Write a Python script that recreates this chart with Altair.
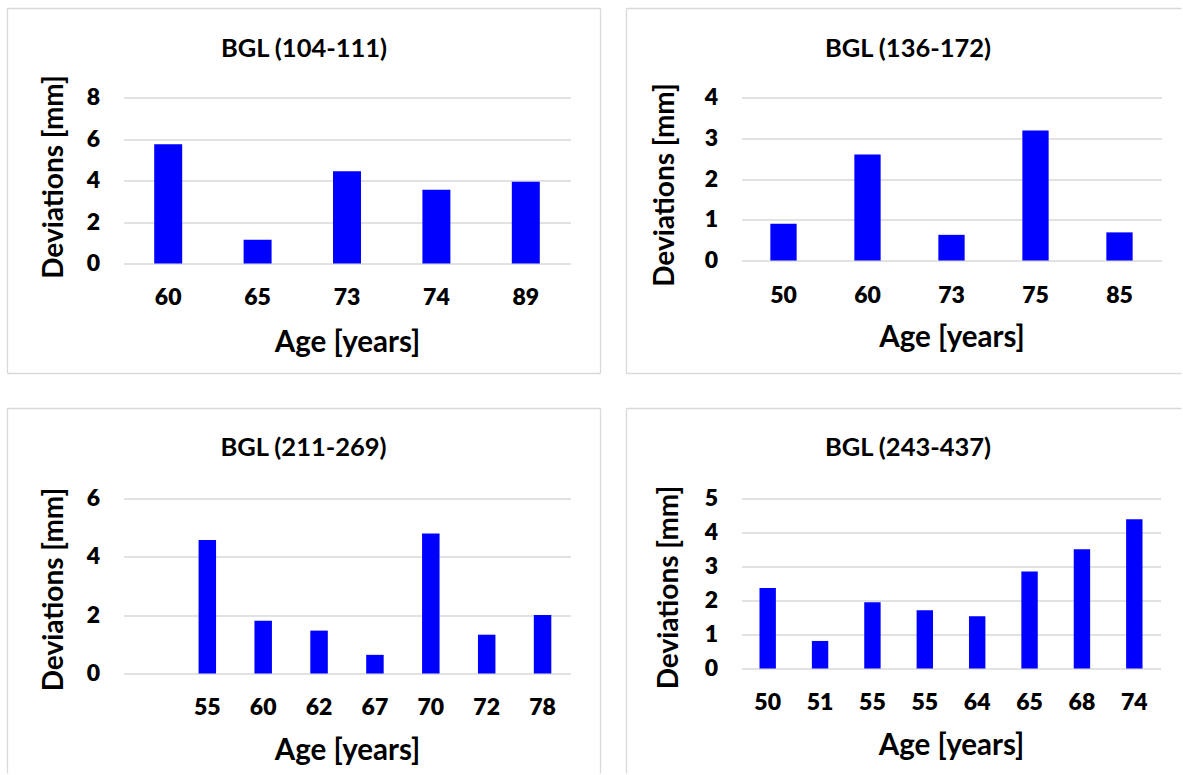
import altair as alt
import pandas as pd

# Panel titles and shared axis titles
TITLES = ["BGL (104-111)", "BGL (136-172)", "BGL (211-269)", "BGL (243-437)"]
X_TITLE = "Age [years]"
Y_TITLE = "Deviations [mm]"

# BGL (104-111)
AGES_1 = ["60", "65", "73", "74", "89"]
DEV_1 = [5.75, 1.15, 4.45, 3.55, 3.94]
TICKS_1 = [0, 2, 4, 6, 8]

# BGL (136-172)
AGES_2 = ["50", "60", "73", "75", "85"]
DEV_2 = [0.90, 2.60, 0.63, 3.19, 0.69]
TICKS_2 = [0, 1, 2, 3, 4]

# BGL (211-269) -- the first slot is left empty
AGES_3 = ["", "55", "60", "62", "67", "70", "72", "78"]
DEV_3 = [None, 4.58, 1.81, 1.47, 0.64, 4.80, 1.33, 2.01]
TICKS_3 = [0, 2, 4, 6]

# BGL (243-437)
AGES_4 = ["50", "51", "55", "55", "64", "65", "68", "74"]
DEV_4 = [2.37, 0.81, 1.95, 1.71, 1.54, 2.85, 3.51, 4.39]
TICKS_4 = [0, 1, 2, 3, 4, 5]

BLUE = "#0000ff"
GRID = "#d9d9d9"
FONT = "Lato"
ONE = pd.DataFrame({"k": [0]})


def edge(x1, x2, y1, y2):
    """One straight piece of a panel frame, in pixels relative to the plot."""
    return alt.Chart(ONE).mark_rule(color=GRID, strokeWidth=1.3).encode(
        x=alt.value(x1), x2=alt.value(x2), y=alt.value(y1), y2=alt.value(y2)
    )


def panel(title, ages, devs, ticks, w, h, frame, title_xy, ytitle_xy,
          xlabel_pad, xtitle_y):
    slots = list(range(len(ages)))
    df = pd.DataFrame({"slot": slots, "dev": devs}).dropna()
    label_expr = "[" + ",".join("'%s'" % a for a in ages) + "][datum.value]"

    bars = alt.Chart(df).mark_bar(color=BLUE).encode(
        x=alt.X(
            "slot:O",
            scale=alt.Scale(domain=slots, paddingInner=0.687, paddingOuter=0.3435),
            axis=alt.Axis(
                title=X_TITLE, labelExpr=label_expr, labelAngle=0,
                ticks=False, tickSize=0, domain=False, grid=False,
                labelBaseline="middle", labelPadding=xlabel_pad,
                titleY=xtitle_y, titleBaseline="middle", titleFontSize=29.5,
            ),
        ),
        y=alt.Y(
            "dev:Q",
            scale=alt.Scale(domain=[ticks[0], ticks[-1]], nice=False),
            axis=alt.Axis(
                title=Y_TITLE, values=ticks, grid=True, ticks=False, tickSize=0,
                domain=False, labelPadding=24,
                titleX=ytitle_xy[0], titleY=ytitle_xy[1], titleFontSize=28,
                titleAngle=270, titleBaseline="middle", titleAlign="center",
            ),
        ),
    )

    head = alt.Chart(pd.DataFrame({"t": [title]})).mark_text(
        font=FONT, fontSize=25.5, fontWeight="bold", color="black",
        align="center", baseline="middle",
    ).encode(x=alt.value(title_xy[0]), y=alt.value(title_xy[1]), text="t:N")

    pieces = [edge(*seg) for seg in frame]
    return alt.layer(bars, head, *pieces).properties(width=w, height=h)


p1 = panel(
    TITLES[0], AGES_1, DEV_1, TICKS_1, 447, 166,
    frame=[(-116, 477, -89, -89), (-116, 477, 276, 276),
           (-116, -116, -89, 276), (477, 477, -89, 276)],
    title_xy=(180.5, -49), ytitle_xy=(-69, 79), xlabel_pad=34, xtitle_y=79,
)
p2 = panel(
    TITLES[1], AGES_2, DEV_2, TICKS_2, 420, 163,
    frame=[(-115, 440, -89, -89), (-115, 440, 276, 276),
           (-115, -115, -89, 276)],
    title_xy=(166.5, -49), ytitle_xy=(-76, 87), xlabel_pad=35, xtitle_y=77,
)
p3 = panel(
    TITLES[2], AGES_3, DEV_3, TICKS_3, 447, 175,
    frame=[(-116, 477, -90, -90), (-116, -116, -90, 275),
           (477, 477, -90, 275)],
    title_xy=(180, -51), ytitle_xy=(-69.5, 90.5), xlabel_pad=34, xtitle_y=77,
)
p4 = panel(
    TITLES[3], AGES_4, DEV_4, TICKS_4, 419, 170,
    frame=[(-115, 440, -90, -90), (-115, -115, -90, 275)],
    title_xy=(166.5, -51), ytitle_xy=(-72, 88.5), xlabel_pad=34, xtitle_y=77,
)

chart = alt.concat(
    p1, p2, p3, p4, columns=2,
    spacing={"row": 235, "column": 171}, bounds="flush",
).properties(
    padding={"left": 6.5, "top": 7.5, "right": 0, "bottom": 0},
    background="white",
).configure_view(stroke=None).configure_axis(
    labelFont=FONT, labelFontSize=23, labelFontWeight=800, labelColor="black",
    titleFont=FONT, titleFontWeight="bold", titleColor="black",
    gridColor=GRID, gridWidth=1.5,
)

chart.save("out.html", embed_options={"renderer": "svg", "actions": False})
